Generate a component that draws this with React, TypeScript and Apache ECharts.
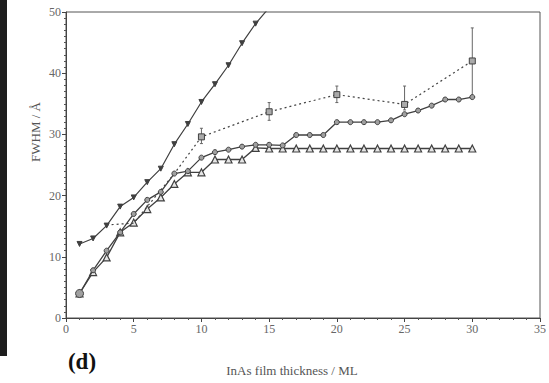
import React, { useEffect, useRef } from "react";
import * as echarts from "echarts";

// Steep series (filled down-triangles), x = 1..15
const steepX = [1, 2, 3, 4, 5, 6, 7, 8, 9, 10, 11, 12, 13, 14, 15];
const steepY = [12.1, 13.0, 15.1, 18.2, 19.7, 22.2, 24.4, 28.4, 31.7, 35.3, 38.2, 41.3, 44.9, 48.1, 50.7];

// Circle series and triangle series, x = 1..30
const fullX = [1, 2, 3, 4, 5, 6, 7, 8, 9, 10, 11, 12, 13, 14, 15, 16, 17, 18, 19, 20, 21, 22, 23, 24, 25, 26, 27, 28, 29, 30];
const circleY = [4.0, 7.8, 11.0, 14.0, 17.0, 19.3, 20.6, 23.6, 24.0, 26.2, 27.1, 27.5, 28.0, 28.3, 28.3, 28.2, 29.9, 29.9, 29.9, 32.0, 32.0, 32.0, 32.0, 32.3, 33.3, 33.9, 34.7, 35.7, 35.7, 36.1];
const triangleY = [4.0, 7.5, 9.9, 14.0, 15.6, 17.8, 19.7, 21.9, 23.8, 23.8, 25.9, 25.9, 25.9, 27.8, 27.7, 27.7, 27.7, 27.7, 27.7, 27.7, 27.7, 27.7, 27.7, 27.7, 27.7, 27.7, 27.7, 27.7, 27.7, 27.7];

// Dotted series (squares) with error bars
const dotX = [3, 5, 8, 10, 15, 20, 25, 30];
const dotY = [15.2, 15.5, 23.6, 29.6, 33.7, 36.5, 34.9, 42.0];
const dotMarked = [false, false, false, true, true, true, true, true];
const errX = [10, 15, 20, 25, 30];
const errLow = [28.5, 32.3, 35.2, 34.0, 36.2];
const errHigh = [31.0, 35.2, 37.9, 37.9, 47.4];

const xTicks = [0, 5, 10, 15, 20, 25, 30, 35];
const yTicks = [0, 10, 20, 30, 40, 50];

const FONT = "Liberation Serif";
const INK = "#404040";

export default function App() {
  const ref = useRef<HTMLDivElement>(null);
  useEffect(() => {
    if (!ref.current) return;
    const chart = echarts.init(ref.current, undefined, { renderer: "svg" });
    const zip = (xs: number[], ys: number[]) => xs.map((x, i) => [x, ys[i]]);
    chart.setOption({
      animation: false,
      backgroundColor: "#ffffff",
      textStyle: { fontFamily: FONT },
      grid: {
        left: 66,
        right: 6,
        top: 12,
        bottom: 65,
        show: true,
        borderColor: "#555",
        borderWidth: 1,
      },
      xAxis: {
        type: "value",
        min: xTicks[0],
        max: xTicks[xTicks.length - 1],
        interval: 5,
        axisLine: { lineStyle: { color: "#444", width: 1 } },
        axisTick: { show: true, length: 4, lineStyle: { color: "#444" } },
        minorTick: { show: true, splitNumber: 5, length: 2, lineStyle: { color: "#555" } },
        splitLine: { show: false },
        axisLabel: { color: "#666", fontFamily: FONT, fontSize: 12, margin: 5 },
      },
      yAxis: {
        type: "value",
        min: yTicks[0],
        max: yTicks[yTicks.length - 1],
        interval: 10,
        axisLine: { show: true, lineStyle: { color: "#444", width: 1 } },
        axisTick: { show: true, length: 4, lineStyle: { color: "#444" } },
        minorTick: { show: true, splitNumber: 10, length: 2, lineStyle: { color: "#555" } },
        splitLine: { show: false },
        axisLabel: { color: "#666", fontFamily: FONT, fontSize: 12, margin: 5 },
      },
      graphic: [
        { type: "rect", shape: { x: 0, y: 0, width: 7, height: 356 }, style: { fill: "#1e1e1e" } },
        {
          type: "text",
          x: 35,
          y: 132,
          rotation: Math.PI / 2,
          style: {
            text: "FWHM / Å",
            fontFamily: FONT,
            fontSize: 13,
            fill: "#555",
            align: "center",
            verticalAlign: "middle",
          },
        },
        {
          type: "text",
          x: 292,
          y: 370,
          style: {
            text: "InAs film thickness / ML",
            fontFamily: FONT,
            fontSize: 13,
            fill: "#555",
            align: "center",
            verticalAlign: "middle",
          },
        },
        {
          type: "text",
          x: 82,
          y: 361,
          style: {
            text: "(d)",
            fontFamily: FONT,
            fontSize: 23,
            fontWeight: "bold",
            fill: "#111",
            align: "center",
            verticalAlign: "middle",
          },
        },
      ],
      series: [
        {
          type: "line",
          data: zip(steepX, steepY),
          clip: true,
          symbol: "triangle",
          symbolRotate: 180,
          symbolSize: 5,
          showAllSymbol: true,
          lineStyle: { color: INK, width: 1.2 },
          itemStyle: { color: INK, borderColor: INK, borderWidth: 1 },
          z: 3,
        },
        {
          type: "line",
          data: fullX.map((x, i) =>
            i === 0 ? { value: [x, circleY[i]], symbolSize: 8 } : { value: [x, circleY[i]] }
          ),
          symbol: "circle",
          symbolSize: 5,
          lineStyle: { color: INK, width: 1.3 },
          itemStyle: { color: "#a0a0a0", borderColor: INK, borderWidth: 1 },
          z: 5,
        },
        {
          type: "line",
          data: zip(fullX, triangleY),
          symbol: "triangle",
          symbolSize: 7,
          lineStyle: { color: INK, width: 1.3 },
          itemStyle: { color: "#e6e6e6", borderColor: INK, borderWidth: 1.2 },
          z: 4,
        },
        {
          type: "line",
          data: dotX.map((x, i) =>
            dotMarked[i]
              ? { value: [x, dotY[i]] }
              : { value: [x, dotY[i]], symbol: "none" }
          ),
          symbol: "rect",
          symbolSize: 6,
          lineStyle: { color: "#444", width: 1.2, type: [2, 3] },
          itemStyle: { color: "#aaaaaa", borderColor: INK, borderWidth: 1 },
          z: 5,
        },
        {
          type: "custom",
          data: errX.map((x, i) => [x, errLow[i], errHigh[i]]),
          renderItem: (params: any, api: any) => {
            const x = api.value(0);
            const lo = api.coord([x, api.value(1)]);
            const hi = api.coord([x, api.value(2)]);
            const cap = 1.5;
            const st = { stroke: "#666", lineWidth: 1 };
            return {
              type: "group",
              children: [
                { type: "line", shape: { x1: lo[0], y1: lo[1], x2: hi[0], y2: hi[1] }, style: st },
                { type: "line", shape: { x1: hi[0] - cap, y1: hi[1], x2: hi[0] + cap, y2: hi[1] }, style: st },
                { type: "line", shape: { x1: lo[0] - cap, y1: lo[1], x2: lo[0] + cap, y2: lo[1] }, style: st },
              ],
            };
          },
          z: 2,
        },
      ],
    });
    return () => chart.dispose();
  }, []);
  return (
    <div
      ref={ref}
      style={{ position: "fixed", left: 0, top: 0, width: 549, height: 383, background: "#fff" }}
    />
  );
}
